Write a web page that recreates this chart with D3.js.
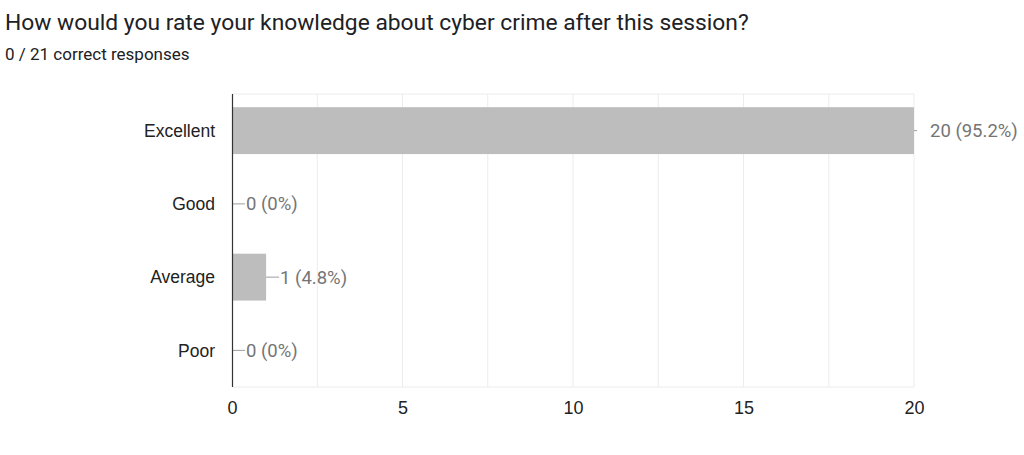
<!DOCTYPE html>
<html><head><meta charset="utf-8">
<script src="https://cdn.jsdelivr.net/npm/d3@7"></script>
<style>
html,body{margin:0;padding:0;background:#fff;}
svg{display:block;}
</style></head>
<body>
<svg id="chart" width="1024" height="455"></svg>
<script>
const title = "How would you rate your knowledge about cyber crime after this session?";
const subtitle = "0 / 21 correct responses";
const categories = ["Excellent", "Good", "Average", "Poor"];
const counts = [20, 0, 1, 0];
const percents = ["95.2%", "0%", "4.8%", "0%"];
const tickValues = [0, 5, 10, 15, 20];
const gridValues = [2.5, 5, 7.5, 10, 12.5, 15, 17.5, 20];

const svg = d3.select("#chart");
const m = {left: 232, right: 110, top: 94, bottom: 68};
const W = 1024, H = 455;
const x = d3.scaleLinear().domain([0, 20]).range([m.left, W - m.right]);
const y = d3.scaleBand().domain(categories).range([m.top, H - m.bottom]).paddingInner(0.36).paddingOuter(0.18);

svg.append("text").attr("x", 5).attr("y", 30).attr("font-family", "Roboto").attr("font-size", 22.8).attr("fill", "#202124").text(title);
svg.append("text").attr("x", 5).attr("y", 60).attr("font-family", "Roboto").attr("font-size", 17).attr("fill", "#202124").text(subtitle);

// grid
svg.append("g").selectAll("line").data(gridValues).join("line")
  .attr("x1", d => x(d)).attr("x2", d => x(d))
  .attr("y1", m.top).attr("y2", H - m.bottom)
  .attr("stroke", "#ececec").attr("stroke-width", 1);
svg.append("line").attr("x1", m.left).attr("x2", x(20)).attr("y1", m.top).attr("y2", m.top).attr("stroke", "#ececec");
svg.append("line").attr("x1", m.left).attr("x2", x(20)).attr("y1", H - m.bottom).attr("y2", H - m.bottom).attr("stroke", "#ececec");

// bars
svg.append("g").selectAll("rect").data(categories).join("rect")
  .attr("x", x(0)).attr("y", d => y(d))
  .attr("width", (d, i) => x(counts[i]) - x(0))
  .attr("height", y.bandwidth())
  .attr("fill", "#bdbdbd");

// value labels with connector
const lab = svg.append("g");
categories.forEach((c, i) => {
  const cy = y(c) + y.bandwidth() / 2;
  const x0 = x(counts[i]);
  const big = counts[i] >= 20;
  const lx2 = big ? x0 + 3 : x0 + 13;
  lab.append("line").attr("x1", x0).attr("x2", lx2).attr("y1", cy).attr("y2", cy).attr("stroke", "#9e9e9e").attr("stroke-width", 1);
  lab.append("text").attr("x", big ? x0 + 16 : lx2 + 1).attr("y", cy).attr("dy", "0.35em")
    .attr("font-family", "Roboto").attr("font-size", 18.5).attr("fill", "#757575")
    .text(counts[i] + " (" + percents[i] + ")");
});

// y axis
svg.append("line").attr("x1", m.left + 0.5).attr("x2", m.left + 0.5).attr("y1", m.top).attr("y2", H - m.bottom).attr("stroke", "#333").attr("stroke-width", 1.2);
svg.append("g").selectAll("text").data(categories).join("text")
  .attr("x", m.left - 17).attr("y", d => y(d) + y.bandwidth() / 2).attr("dy", "0.35em")
  .attr("text-anchor", "end").attr("font-family", "Liberation Sans, Arial").attr("font-size", 17.5).attr("fill", "#222")
  .text(d => d);

// x axis ticks
const xAxis = d3.axisBottom(x).tickValues(tickValues).tickSize(0).tickPadding(0);
const gx = svg.append("g").attr("transform", `translate(0,${H - m.bottom})`).call(xAxis);
gx.select(".domain").remove();
gx.selectAll("text").attr("y", 14).attr("dy", "0.71em").attr("font-family", "Liberation Sans, Arial").attr("font-size", 18).attr("fill", "#222");
</script>
</body></html>
